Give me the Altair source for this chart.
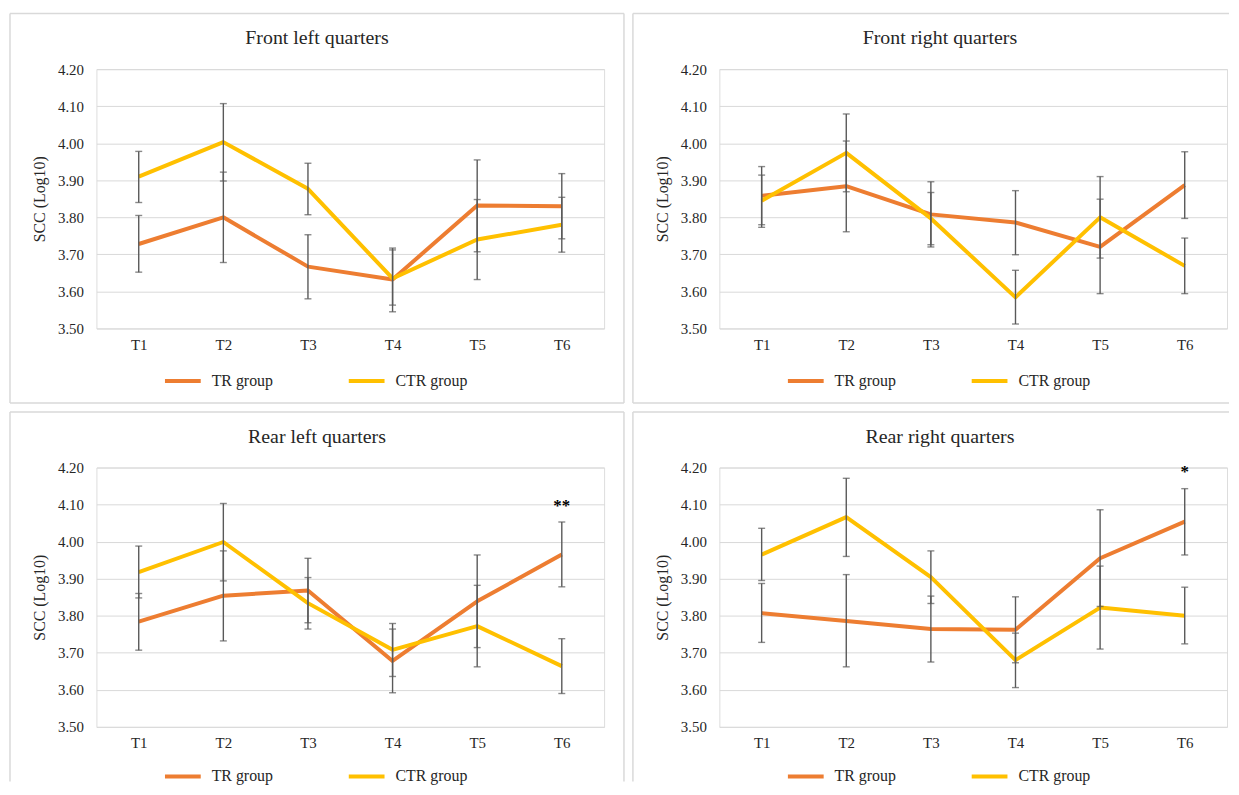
import altair as alt
import pandas as pd

times = ["T1", "T2", "T3", "T4", "T5", "T6"]
groups = ["TR group", "CTR group"]
colors = ["#ED7D31", "#FFC000"]
titles = ["Front left quarters", "Front right quarters",
          "Rear left quarters", "Rear right quarters"]
y_ticks = [3.5, 3.6, 3.7, 3.8, 3.9, 4.0, 4.1, 4.2]

# Front left
fl_tr_mean = [3.728, 3.800, 3.667, 3.632, 3.832, 3.830]
fl_tr_lo = [3.652, 3.678, 3.580, 3.545, 3.707, 3.742]
fl_tr_hi = [3.805, 3.922, 3.753, 3.717, 3.955, 3.918]
fl_ctr_mean = [3.910, 4.003, 3.877, 3.635, 3.740, 3.780]
fl_ctr_lo = [3.840, 3.898, 3.807, 3.563, 3.632, 3.706]
fl_ctr_hi = [3.978, 4.107, 3.946, 3.712, 3.848, 3.854]

# Front right
fr_tr_mean = [3.858, 3.884, 3.808, 3.786, 3.720, 3.887]
fr_tr_lo = [3.780, 3.761, 3.720, 3.699, 3.594, 3.797]
fr_tr_hi = [3.937, 4.006, 3.896, 3.872, 3.849, 3.977]
fr_ctr_mean = [3.845, 3.974, 3.797, 3.584, 3.800, 3.669]
fr_ctr_lo = [3.773, 3.869, 3.726, 3.512, 3.690, 3.594]
fr_ctr_hi = [3.914, 4.079, 3.867, 3.657, 3.910, 3.744]

# Rear left
rl_tr_mean = [3.784, 3.854, 3.868, 3.678, 3.839, 3.965]
rl_tr_lo = [3.707, 3.732, 3.781, 3.592, 3.714, 3.878]
rl_tr_hi = [3.860, 3.975, 3.955, 3.764, 3.964, 4.053]
rl_ctr_mean = [3.918, 3.999, 3.834, 3.708, 3.772, 3.664]
rl_ctr_lo = [3.848, 3.894, 3.764, 3.636, 3.662, 3.590]
rl_ctr_hi = [3.988, 4.103, 3.903, 3.779, 3.882, 3.738]

# Rear right
rr_tr_mean = [3.807, 3.786, 3.764, 3.762, 3.955, 4.054]
rr_tr_lo = [3.728, 3.662, 3.675, 3.673, 3.825, 3.964]
rr_tr_hi = [3.887, 3.911, 3.853, 3.851, 4.086, 4.143]
rr_ctr_mean = [3.965, 4.066, 3.904, 3.680, 3.822, 3.800]
rr_ctr_lo = [3.895, 3.960, 3.833, 3.606, 3.710, 3.724]
rr_ctr_hi = [4.036, 4.171, 3.975, 3.753, 3.934, 3.877]

# significance marks (panel index -> (time, level, text))
stars = {2: ("T6", 4.097, "**"), 3: ("T6", 4.189, "*")}

FONT = "Liberation Serif"
TXT = "#262626"
W, H = 511, 261
BORDER = "#D9D9D9"

# panel frame extents relative to the plot origin
L, R, T, B = -87, 531, -56, 336
R_OPEN, B_OPEN = 513, 316


def frame_rules(open_right, open_bottom):
    one = pd.DataFrame({"k": [0]})
    right = R_OPEN if open_right else R
    bottom = B_OPEN if open_bottom else B
    segs = [
        dict(x=alt.value(L), x2=alt.value(right), y=alt.value(T)),
        dict(x=alt.value(L), y=alt.value(T), y2=alt.value(bottom)),
    ]
    if not open_right:
        segs.append(dict(x=alt.value(R), y=alt.value(T), y2=alt.value(bottom)))
    if not open_bottom:
        segs.append(dict(x=alt.value(L), x2=alt.value(right), y=alt.value(B)))
    return [alt.Chart(one).mark_rule(color=BORDER, strokeWidth=1.5).encode(**s) for s in segs]


def panel(i, title, tr_mean, tr_lo, tr_hi, ctr_mean, ctr_lo, ctr_hi):
    df = pd.DataFrame({
        "time": times + times,
        "group": [groups[0]] * 6 + [groups[1]] * 6,
        "mean": tr_mean + ctr_mean,
        "lo": tr_lo + ctr_lo,
        "hi": tr_hi + ctr_hi,
    })
    xenc = alt.X("time:N", sort=times, title=None,
                 scale=alt.Scale(type="point", padding=0.5),
                 axis=alt.Axis(labelAngle=0, domain=False, ticks=False, grid=False,
                               labelFont=FONT, labelFontSize=15, labelColor=TXT,
                               labelPadding=9))
    yscale = alt.Scale(domain=[3.5, 4.2], nice=False, zero=False)
    yaxis = alt.Axis(values=y_ticks, format=".2f", grid=True, gridColor=BORDER,
                     gridWidth=1, domain=False, ticks=False, labelFont=FONT,
                     labelFontSize=15, labelColor=TXT, labelPadding=13,
                     title="SCC (Log10)", titleFont=FONT, titleFontSize=16,
                     titleFontWeight="normal", titleColor=TXT, titlePadding=10)
    legend_y = 303 if i < 2 else 300
    base = alt.Chart(df)
    lines = base.mark_line(strokeWidth=4, strokeJoin="round").encode(
        x=xenc,
        y=alt.Y("mean:Q", scale=yscale, axis=yaxis),
        color=alt.Color("group:N", scale=alt.Scale(domain=groups, range=colors),
                        legend=alt.Legend(orient="none", legendX=76, legendY=legend_y,
                                          direction="horizontal", title=None,
                                          symbolType="M-2,0H2", symbolSize=324,
                                          symbolStrokeWidth=4, labelFont=FONT,
                                          labelFontSize=16, labelColor=TXT,
                                          labelOffset=18, columnPadding=68,
                                          padding=0)),
    )
    bars = base.mark_rule(color="#595959", strokeWidth=1.4).encode(
        x=xenc, y=alt.Y("lo:Q", scale=yscale, axis=yaxis), y2="hi:Q")
    cap_lo = base.mark_tick(color="#595959", thickness=1.4, size=7, orient="horizontal").encode(
        x=xenc, y=alt.Y("lo:Q", scale=yscale, axis=yaxis))
    cap_hi = base.mark_tick(color="#595959", thickness=1.4, size=7, orient="horizontal").encode(
        x=xenc, y=alt.Y("hi:Q", scale=yscale, axis=yaxis))
    tdf = pd.DataFrame({"t": [title]})
    title_mark = alt.Chart(tdf).mark_text(font=FONT, fontSize=20, color=TXT,
                                          align="center", baseline="alphabetic").encode(
        x=alt.value(222), y=alt.value(-25), text="t:N")
    layers = frame_rules(i in (1, 3), i in (2, 3)) + [title_mark, lines, bars, cap_lo, cap_hi]
    if i in stars:
        st, lvl, txt = stars[i]
        sdf = pd.DataFrame({"time": [st], "lvl": [lvl], "s": [txt]})
        layers.append(alt.Chart(sdf).mark_text(font=FONT, fontSize=17, fontWeight="bold",
                                               color="#000000", baseline="middle", dy=0).encode(
            x=xenc, y=alt.Y("lvl:Q", scale=yscale, axis=yaxis), text="s:N"))
    return alt.layer(*layers).properties(width=W, height=H)


p1 = panel(0, titles[0], fl_tr_mean, fl_tr_lo, fl_tr_hi, fl_ctr_mean, fl_ctr_lo, fl_ctr_hi)
p2 = panel(1, titles[1], fr_tr_mean, fr_tr_lo, fr_tr_hi, fr_ctr_mean, fr_ctr_lo, fr_ctr_hi)
p3 = panel(2, titles[2], rl_tr_mean, rl_tr_lo, rl_tr_hi, rl_ctr_mean, rl_ctr_lo, rl_ctr_hi)
p4 = panel(3, titles[3], rr_tr_mean, rr_tr_lo, rr_tr_hi, rr_ctr_mean, rr_ctr_lo, rr_ctr_hi)

chart = alt.concat(p1, p2, p3, p4, columns=2, spacing=5).resolve_scale(
    color="independent").resolve_legend(color="independent").properties(
    padding={"left": 0, "top": 1, "right": 0, "bottom": 0},
    background="white",
).configure_view(stroke=None).configure(font=FONT).configure_axis(
    labelFont=FONT, titleFont=FONT).configure_text(font=FONT)

chart.save("out.html", embed_options={"renderer": "svg", "actions": False})
